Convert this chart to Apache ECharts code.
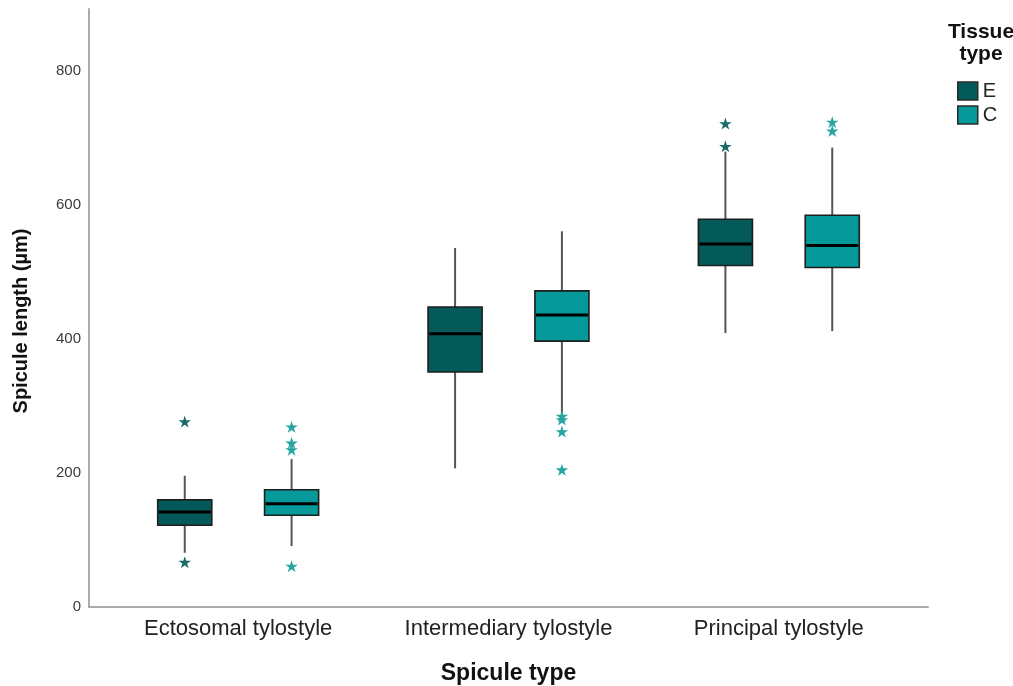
<!DOCTYPE html>
<html>
<head>
<meta charset="utf-8">
<script src="https://cdn.jsdelivr.net/npm/echarts@6/dist/echarts.min.js"></script>
<style>
html,body{margin:0;padding:0;background:#fff;}
#chart{width:1013px;height:686px;}
</style>
</head>
<body>
<div id="chart"></div>
<script>
// ---- data ----
const categories = ['Ectosomal tylostyle', 'Intermediary tylostyle', 'Principal tylostyle'];
const tissueTypes = ['E', 'C'];
// [min, Q1, median, Q3, max] per category
const statsE = [
  [81, 122, 142, 160, 196],
  [207, 351, 408, 448, 536],
  [409, 510, 542, 579, 680]
];
const statsC = [
  [91, 137, 154, 175, 221],
  [287, 397, 436, 472, 561],
  [412, 507, 540, 585, 686]
];
// outliers: [categoryIndex, value]
const outliersE = [[0, 276], [0, 66], [2, 721], [2, 687]];
const outliersC = [[0, 268], [0, 244], [0, 234], [0, 60], [1, 284], [1, 279], [1, 261], [1, 204], [2, 723], [2, 710]];
const yTicks = [0, 200, 400, 600, 800];

const colorE = '#045a59';
const colorC = '#05999a';
const starE = '#1b6a6a';
const starC = '#27a5a5';
const OFFSET = 0.1976;   // fraction of category band
const BOXW = 0.2;        // fraction of category band

function boxRender(offsetFrac, fill) {
  return function (params, api) {
    const ci = api.value(0);
    const band = api.size([1, 0])[0];
    const cx = api.coord([ci, 0])[0] + offsetFrac * band;
    const w = BOXW * band;
    const y = v => api.coord([ci, v])[1];
    const yMin = y(api.value(1)), yQ1 = y(api.value(2)), yMed = y(api.value(3)),
          yQ3 = y(api.value(4)), yMax = y(api.value(5));
    return {
      type: 'group',
      children: [
        {type: 'line', shape: {x1: cx, y1: yMax, x2: cx, y2: yQ3}, style: {stroke: '#555', lineWidth: 2}},
        {type: 'line', shape: {x1: cx, y1: yQ1, x2: cx, y2: yMin}, style: {stroke: '#555', lineWidth: 2}},
        {type: 'rect', shape: {x: cx - w / 2, y: yQ3, width: w, height: yQ1 - yQ3},
          style: {fill: fill, stroke: '#1e1e1e', lineWidth: 1.6}},
        {type: 'line', shape: {x1: cx - w / 2 + 1, y1: yMed, x2: cx + w / 2 - 1, y2: yMed},
          style: {stroke: '#000', lineWidth: 3}}
      ]
    };
  };
}

function starRender(offsetFrac, color) {
  return function (params, api) {
    const ci = api.value(0);
    const band = api.size([1, 0])[0];
    const p = api.coord([ci, api.value(1)]);
    const cx = p[0] + offsetFrac * band, cy = p[1];
    const pts = [];
    const R = 6.6, r = 2.5;
    for (let i = 0; i < 10; i++) {
      const a = -Math.PI / 2 + i * Math.PI / 5;
      const rad = i % 2 === 0 ? R : r;
      pts.push([cx + rad * Math.cos(a), cy + rad * Math.sin(a)]);
    }
    return {type: 'polygon', shape: {points: pts}, style: {fill: color}};
  };
}

const boxDataE = statsE.map((s, i) => [i].concat(s));
const boxDataC = statsC.map((s, i) => [i].concat(s));

const chart = echarts.init(document.getElementById('chart'), null, {renderer: 'canvas'});
const font = '"Liberation Sans", Arial, sans-serif';

chart.setOption({
  animation: false,
  backgroundColor: '#fff',
  textStyle: {fontFamily: font},
  title: {
    text: 'Tissue\ntype',
    left: 976,
    top: 16,
    textAlign: 'center',
    textStyle: {fontFamily: font, fontSize: 21, fontWeight: 'bold', color: '#111', lineHeight: 22}
  },
  legend: {
    data: tissueTypes,
    orient: 'vertical',
    left: 957,
    top: 81,
    padding: 0,
    itemWidth: 20,
    itemHeight: 18,
    itemGap: 4,
    icon: 'rect',
    selectedMode: false,
    itemStyle: {borderColor: '#2a2a2a', borderWidth: 1.5},
    textStyle: {fontFamily: font, fontSize: 20, color: '#222', padding: [0, 0, 0, 0]}
  },
  grid: [
    {left: 103, right: 99, top: 9, bottom: 79, outerBoundsMode: 'none', containLabel: false},
    {left: 89, right: 85, top: 9, bottom: 79, outerBoundsMode: 'none', containLabel: false}
  ],
  xAxis: [
    {
      type: 'category',
      gridIndex: 0,
      data: categories,
      boundaryGap: true,
      name: 'Spicule type',
      nameLocation: 'middle',
      nameGap: 55,
      nameTextStyle: {fontFamily: font, fontSize: 23, fontWeight: 'bold', color: '#111'},
      axisLine: {show: false},
      axisTick: {show: false},
      axisLabel: {fontFamily: font, fontSize: 22, color: '#222', margin: 11},
      splitLine: {show: false}
    },
    {
      type: 'value',
      gridIndex: 1,
      min: 0, max: 1,
      axisLine: {show: true, lineStyle: {color: '#ababab', width: 2}},
      axisTick: {show: false},
      axisLabel: {show: false},
      splitLine: {show: false}
    }
  ],
  yAxis: [
    {
      type: 'value',
      gridIndex: 0,
      min: yTicks[0],
      max: 893,
      interval: 200,
      offset: 14,
      name: 'Spicule length (µm)',
      nameLocation: 'middle',
      nameGap: 58,
      nameRotate: 90,
      nameTextStyle: {fontFamily: font, fontSize: 20, fontWeight: 'bold', color: '#111', padding: [0, 26, 0, 0]},
      axisLine: {show: true, lineStyle: {color: '#ababab', width: 2}},
      axisTick: {show: false},
      axisLabel: {fontFamily: font, fontSize: 15, color: '#3a3a3a', margin: 8, showMaxLabel: false},
      splitLine: {show: false}
    },
    {
      type: 'value',
      gridIndex: 1,
      show: false,
      min: 0, max: 1
    }
  ],
  series: [
    {
      name: 'E', type: 'custom', xAxisIndex: 0, yAxisIndex: 0,
      data: boxDataE, encode: {x: 0, y: [1, 2, 3, 4, 5]},
      itemStyle: {color: colorE}, silent: true,
      renderItem: boxRender(-OFFSET, colorE)
    },
    {
      name: 'C', type: 'custom', xAxisIndex: 0, yAxisIndex: 0,
      data: boxDataC, encode: {x: 0, y: [1, 2, 3, 4, 5]},
      itemStyle: {color: colorC}, silent: true,
      renderItem: boxRender(OFFSET, colorC)
    },
    {
      name: 'E', type: 'custom', xAxisIndex: 0, yAxisIndex: 0,
      data: outliersE, encode: {x: 0, y: 1},
      itemStyle: {color: colorE}, silent: true,
      renderItem: starRender(-OFFSET, starE)
    },
    {
      name: 'C', type: 'custom', xAxisIndex: 0, yAxisIndex: 0,
      data: outliersC, encode: {x: 0, y: 1},
      itemStyle: {color: colorC}, silent: true,
      renderItem: starRender(OFFSET, starC)
    }
  ]
});
</script>
</body>
</html>
